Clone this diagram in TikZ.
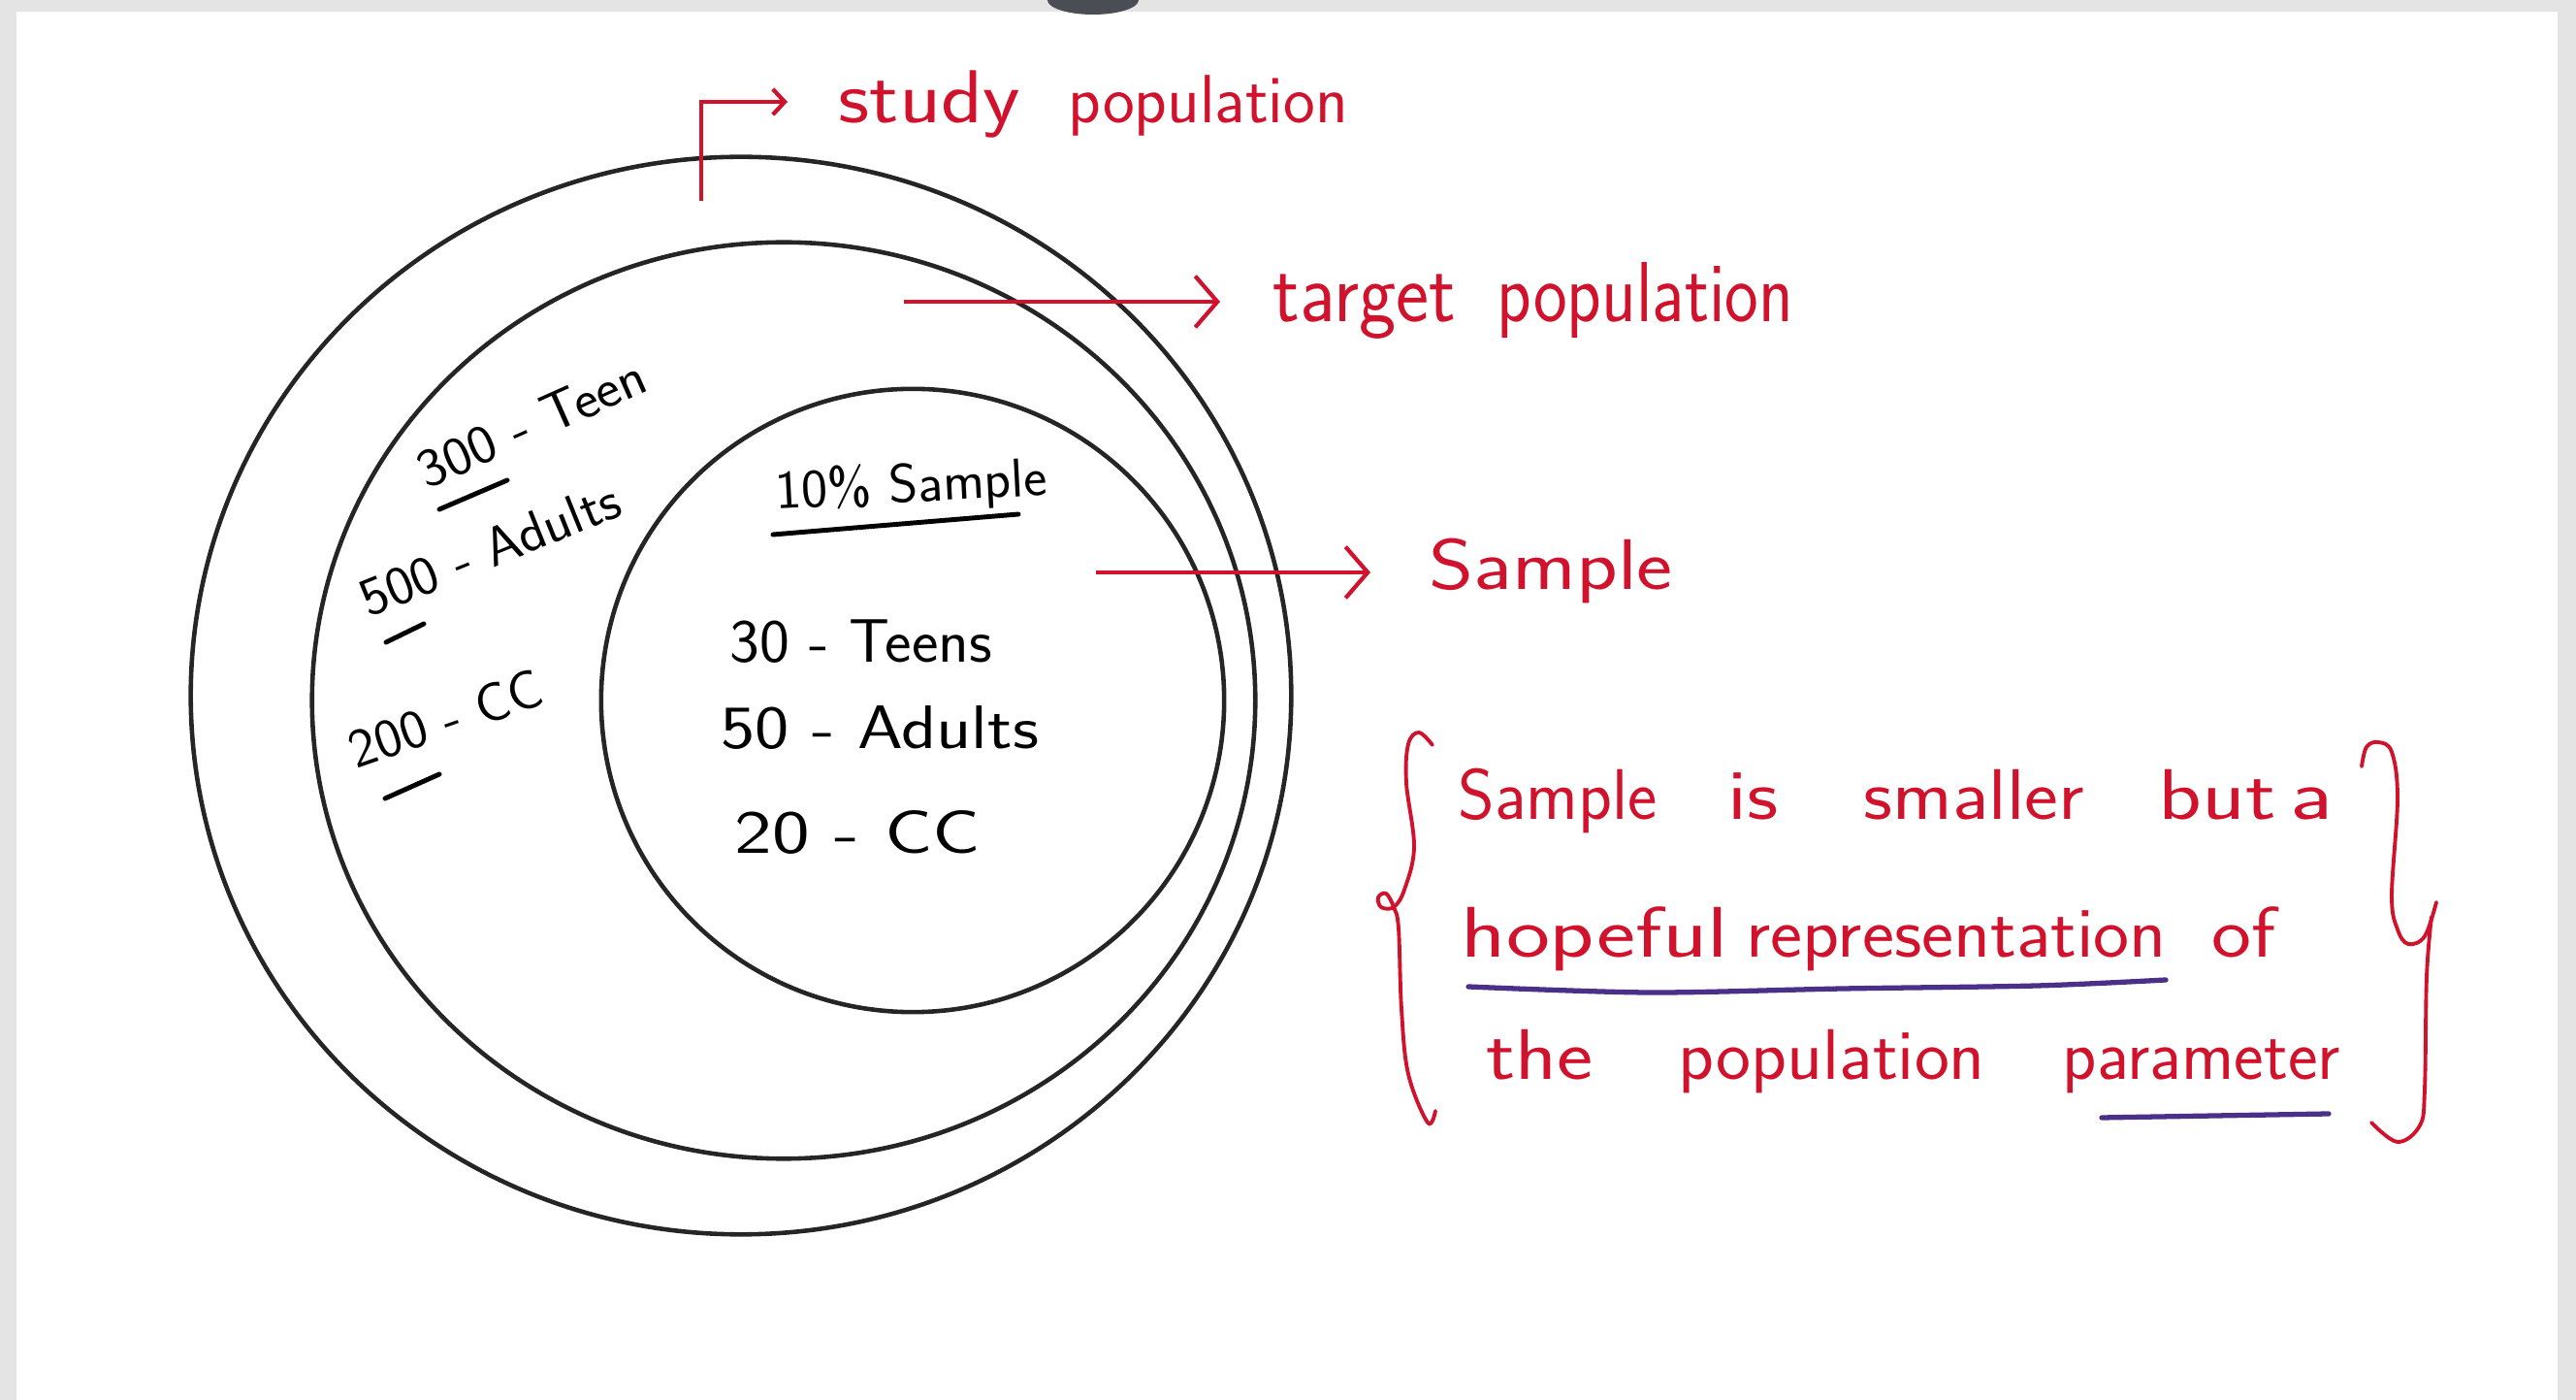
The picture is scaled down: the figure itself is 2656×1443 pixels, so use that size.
\documentclass[tikz,border=0pt]{standalone}
\usepackage{fontspec}
\usepackage{graphicx}
\usetikzlibrary{arrows.meta,shapes.geometric}
\definecolor{pen}{HTML}{D0122C}
\definecolor{ink}{HTML}{252525}
\definecolor{ulviolet}{HTML}{4A3088}
\definecolor{frame}{HTML}{E4E4E4}
\definecolor{blob}{HTML}{4A4E54}
\newcommand{\fitw}[2]{\resizebox{#1}{\height}{#2}}
\newcommand{\fs}[1]{\fontsize{#1}{#1}\selectfont\sffamily}
\tikzset{
  ring/.style={ellipse, draw=ink, line width=1.3pt, inner sep=0pt},
  redlab/.style={inner sep=0pt, anchor=base west, text=pen},
  blab/.style={inner sep=0pt, anchor=base west, text=black},
  redarrow/.style={draw=pen, line width=1.2pt, -{Straight Barb[length=6.5pt,width=15pt,line width=1.2pt]}},
  smallarrow/.style={draw=pen, line width=1.2pt, -{Straight Barb[length=3.5pt,width=7.5pt,line width=1.2pt]}},
  inkline/.style={draw=black, line width=1.4pt, line cap=round},
  vline/.style={draw=ulviolet, line width=1.5pt, line cap=round},
  bracepen/.style={draw=pen, line width=1.1pt, line cap=round}
}
\begin{document}
\begin{tikzpicture}[x=0.01cm, y=-0.01cm]
\useasboundingbox (0,0) rectangle (2656,1443);
% frame
\fill[frame] (0,0) rectangle (2656,1443);
\fill[white] (17,12) rectangle (2637,1443);
\fill[blob] (1080,0) arc[start angle=180, end angle=0, x radius=47, y radius=15] -- cycle;

% circles
\node[ring, minimum width=11.34cm, minimum height=11.10cm] (outer) at (764,717) {};
\node[ring, minimum width=9.72cm, minimum height=9.44cm] (middle) at (808,722) {};
\node[ring, minimum width=6.42cm, minimum height=6.42cm] (inner) at (941,722) {};

% red labels
\node[redlab, font=\fs{22}] (study) at (864,127) {\fitw{1.87cm}{study}};
\node[redlab, font=\fs{20}] (studyb) at (1101,127) {\fitw{2.88cm}{population}};
\node[redlab, font=\fs{25}] (target) at (1312,332) {\fitw{1.88cm}{target}};
\node[redlab, font=\fs{25}] (targetb) at (1543,332) {\fitw{3.05cm}{population}};
\node[redlab, font=\fs{21}] (sample) at (1473,608) {\fitw{2.51cm}{Sample}};

% arrows
\coordinate (s1) at (723,207);
\coordinate (s2) at (723,105);
\coordinate (s3) at (812,105);
\draw[smallarrow] (s1) -- (s2) -- (s3);
\coordinate (t1) at (932,311);
\coordinate (t2) at (1258,311);
\draw[redarrow] (t1) -- (t2);
\coordinate (p1) at (1130,590);
\coordinate (p2) at (1413,590);
\draw[redarrow] (p1) -- (p2);

% outer ring labels
\node[blab, font=\fs{16}, rotate=24] (teen) at (440,505) {\fitw{2.52cm}{300 - Teen}};
\node[blab, font=\fs{16}, rotate=22] (adults) at (380,637) {\fitw{2.84cm}{500 - Adults}};
\node[blab, font=\fs{16}, rotate=19] (cc) at (367,793) {\fitw{2.07cm}{200 - CC}};
\draw[inkline] (453,525) -- (523,495);
\draw[inkline] (398,662) -- (437,643);
\draw[inkline] (397,823) -- (453,798);

% inner labels
\node[blab, font=\fs{16}, rotate=3] (pct) at (800,525) {\fitw{2.80cm}{10\% Sample}};
\draw[inkline] (797,551) -- (1050,530);
\node[blab, font=\fs{18}] (teens) at (752,683) {\fitw{2.70cm}{30 - Teens}};
\node[blab, font=\fs{18}] (adult) at (743,772) {\fitw{3.27cm}{50 - Adults}};
\node[blab, font=\fs{18}] (cc2) at (757,880) {\fitw{2.53cm}{20 - CC}};

% right block
\node[redlab, font=\fs{21}] (w1) at (1503,845) {\fitw{2.05cm}{Sample}};
\node[redlab, font=\fs{21}] (w2) at (1781,845) {\fitw{0.52cm}{is}};
\node[redlab, font=\fs{21}] (w3) at (1921,845) {\fitw{2.27cm}{smaller}};
\node[redlab, font=\fs{21}] (w4) at (2225,845) {\fitw{1.21cm}{but}};
\node[redlab, font=\fs{21}] (w5) at (2361,845) {\fitw{0.44cm}{a}};
\node[redlab, font=\fs{21}] (w6) at (1506,987) {\fitw{2.75cm}{hopeful}};
\node[redlab, font=\fs{21}] (w7) at (1800,987) {\fitw{4.33cm}{representation}};
\node[redlab, font=\fs{21}] (w8) at (2280,987) {\fitw{0.66cm}{of}};
\node[redlab, font=\fs{21}] (w9) at (1532,1113) {\fitw{1.10cm}{the}};
\node[redlab, font=\fs{21}] (w10) at (1730,1113) {\fitw{3.16cm}{population}};
\node[redlab, font=\fs{21}] (w11) at (2126,1113) {\fitw{2.86cm}{parameter}};
\draw[vline] plot[smooth] coordinates {(1514,1017) (1700,1023) (1900,1019) (2100,1016) (2233,1010)};
\draw[vline] (2167,1152) -- (2401,1148);

% braces
\draw[bracepen] plot[smooth, tension=0.6] coordinates {(1477,768) (1463,755) (1452,767) (1450,807) (1458,873) (1448,917) (1437,935) (1424,935) (1421,925) (1429,921) (1437,935) (1442,957) (1445,1040) (1452,1107) (1472,1157) (1480,1145)};
\draw[bracepen] plot[smooth, tension=0.6] coordinates {(2435,790) (2440,770) (2452,765) (2466,775) (2472,823) (2466,923) (2472,958) (2483,973) (2500,965) (2512,930)};
\draw[bracepen] plot[smooth, tension=0.6] coordinates {(2507,945) (2502,1007) (2500,1123) (2495,1160) (2472,1177) (2445,1157)};
\end{tikzpicture}
\end{document}
